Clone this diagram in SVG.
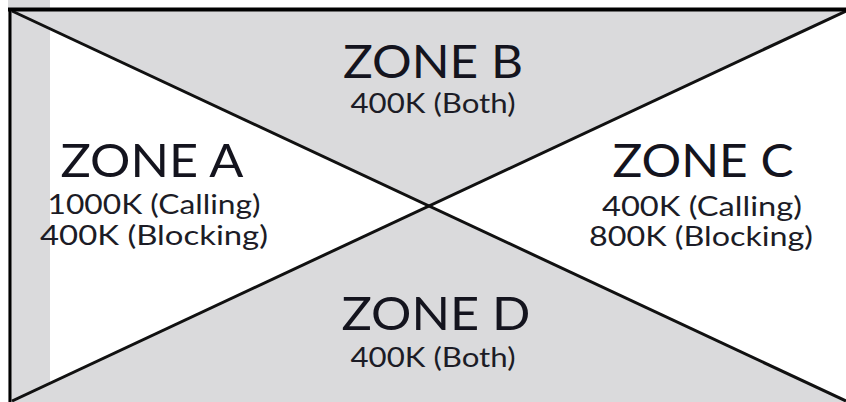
<svg xmlns="http://www.w3.org/2000/svg" width="846" height="402" viewBox="0 0 846 402">
<style>
.zone{fill:#dadadc}
.line{stroke:#111;stroke-width:3;fill:none}
.frame{stroke:#000;fill:none}
.title{font-family:Lato,"Noto Sans",sans-serif;font-size:46px;fill:#14141e;text-anchor:middle}
.sub{font-family:Lato,"Noto Sans",sans-serif;font-size:26px;fill:#1c1c26;text-anchor:middle}
</style>
<rect x="0" y="0" width="846" height="402" fill="#fff"/>
<rect x="8" y="0" width="42" height="402" class="zone"/>
<polygon class="zone" points="12,11 846,11 429,206"/>
<polygon class="zone" points="12,402 846,402 846,401 429,206 12,401"/>
<g id="connectors">
<line class="line" x1="12" y1="11" x2="846" y2="401"/>
<line class="line" x1="12" y1="401" x2="846" y2="11"/>
<line class="frame" x1="8" y1="9.5" x2="846" y2="9.5" stroke-width="4"/>
<line class="frame" x1="10" y1="8" x2="10" y2="402" stroke-width="3"/>
</g>
<g id="zoneB">
<text class="title" x="433" y="78" textLength="180" lengthAdjust="spacingAndGlyphs">ZONE B</text>
<text class="sub" x="433" y="113" textLength="165" lengthAdjust="spacingAndGlyphs">400K (Both)</text>
</g>
<g id="zoneA">
<text class="title" x="152" y="177" textLength="183" lengthAdjust="spacingAndGlyphs">ZONE A</text>
<text class="sub" x="154" y="214" textLength="213" lengthAdjust="spacingAndGlyphs">1000K (Calling)</text>
<text class="sub" x="154" y="245" textLength="228" lengthAdjust="spacingAndGlyphs">400K (Blocking)</text>
</g>
<g id="zoneC">
<text class="title" x="703" y="177" textLength="181" lengthAdjust="spacingAndGlyphs">ZONE C</text>
<text class="sub" x="702" y="216" textLength="200" lengthAdjust="spacingAndGlyphs">400K (Calling)</text>
<text class="sub" x="701" y="246" textLength="224" lengthAdjust="spacingAndGlyphs">800K (Blocking)</text>
</g>
<g id="zoneD">
<text class="title" x="436" y="330" textLength="189" lengthAdjust="spacingAndGlyphs">ZONE D</text>
<text class="sub" x="433" y="367" textLength="165" lengthAdjust="spacingAndGlyphs">400K (Both)</text>
</g>
</svg>
